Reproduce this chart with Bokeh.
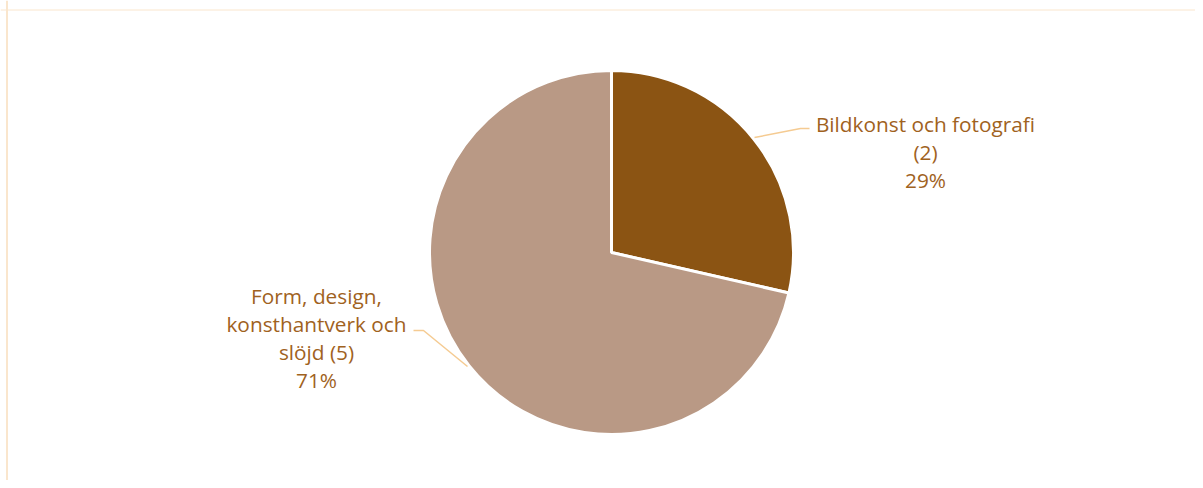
from bokeh.plotting import figure
from bokeh.models import Range1d, Span
from bokeh.core.properties import value
from bokeh.embed import file_html
from bokeh.resources import INLINE
import math

# ---- data ----
categories = ["Bildkonst och fotografi", "Form, design, konsthantverk och slöjd"]
counts = [2, 5]
colors = ["#8B5413", "#B99985"]
# wrapped label lines (category (count) / percentage)
wrapped_names = [["Bildkonst och fotografi", "(2)"], ["Form, design,", "konsthantverk och", "slöjd (5)"]]

total = sum(counts)
pcts = [round(100 * c / total) for c in counts]

# ---- layout (figure pixel coords, y up) ----
W, H = 1195, 480
cx, cy, R = 611, 228, 182
label_centers = [(925, 357), (316, 185)]  # x, y of first line centre
line_gap = 28
leaders = [
    ([754, 800, 809], [343, 352, 352]),
    ([413, 423, 467], [150, 150, 114]),
]

p = figure(width=W, height=H, x_range=Range1d(0, W), y_range=Range1d(0, H),
           output_backend="svg", toolbar_location=None, min_border=0)
p.axis.visible = False
p.grid.visible = False
p.outline_line_color = None
p.background_fill_color = "white"

# wedges
start = math.pi / 2
starts, ends = [], []
for c in counts:
    a = 2 * math.pi * c / total
    starts.append(start)
    ends.append(start - a)
    start -= a
p.wedge(x=[cx] * len(counts), y=[cy] * len(counts), radius=R,
        start_angle=starts, end_angle=ends, direction="clock",
        fill_color=colors, line_color="white", line_width=3)

# leader lines
for xs, ys in leaders:
    p.line(xs, ys, line_color="#F5CB92", line_width=1.5)

# labels
for (lx, ly), names, pct in zip(label_centers, wrapped_names, pcts):
    lines = names + [f"{pct}%"]
    p.text(x=[lx] * len(lines), y=[ly - i * line_gap for i in range(len(lines))],
           text=lines, text_align="center", text_baseline="middle",
           text_font=value("Open Sans"), text_font_size="20.8px", text_color="#A0621E")

# chart border (top and left visible)
p.add_layout(Span(location=6.5, dimension="height", line_color="#FAE6CD", line_width=2))
p.add_layout(Span(location=H - 9.5, dimension="width", line_color="#FAE6CD", line_width=1))

open("out.html", "w").write(file_html(p, INLINE))
